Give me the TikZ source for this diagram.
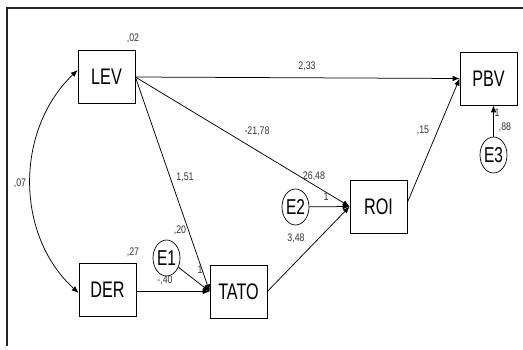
\documentclass[tikz,border=0pt]{standalone}
\usepackage{fontspec}
\setmainfont{Liberation Sans}
\newfontfamily\varfont[FakeStretch=0.72]{Liberation Sans}
\newfontfamily\estfont[FakeStretch=0.8]{Liberation Sans}
\usetikzlibrary{arrows.meta,shapes.geometric}

\begin{document}
\begin{tikzpicture}[
			x=1pt, y=-1pt,
			obsvar/.style={
					rectangle, draw, line width=0.7pt, minimum width=57pt, minimum height=53pt,
					inner sep=0pt, font=\varfont\fontsize{22.5}{22.5}\selectfont
				},
			errvar/.style={
					ellipse, draw, line width=0.7pt, minimum width=27pt, minimum height=36pt,
					inner sep=0pt, font=\varfont\fontsize{21.5}{21.5}\selectfont
				},
			est/.style={inner sep=0pt, text=black!80, font=\estfont\fontsize{11}{11}\selectfont},
			regpath/.style={-{Latex[length=7pt,width=5.5pt]}, line width=0.75pt},
			covpath/.style={{Latex[length=7pt,width=5.5pt]}-{Latex[length=7pt,width=5.5pt]}, line width=0.75pt}
		]
		\useasboundingbox (0,0) rectangle (523,349);

		% Frame (top and left edge only)
		\draw[line width=2pt, black!85] (523,8) -- (7,8) -- (7,346);

		% Observed variables
		\node[obsvar] (lev) at (106.5,77) {LEV};
		\node[obsvar] (der) at (107.5,290) {DER};
		\node[obsvar] (tato) at (238.5,291.5) {TATO};
		\node[obsvar] (roi) at (378.5,206.5) {ROI};
		\node[obsvar] (pbv) at (488.5,78.5) {PBV};

		% Error terms
		\node[errvar] (e1) at (166.5,258) {E1};
		\node[errvar] (e2) at (295.5,207) {E2};
		\node[errvar] (e3) at (493.5,155) {E3};

		% Paths
		\draw[regpath] (lev.east) -- (pbv.west);
		\draw[regpath] (lev.east) -- (roi.west);
		\draw[regpath] (lev.east) -- (tato.west);
		\draw[regpath] (der.east |- tato.west) -- (tato.west);
		\draw[regpath] (e1) -- (tato.west);
		\draw[regpath] (e2) -- (roi.west);
		\draw[regpath] (tato.east) -- (roi.west);
		\draw[regpath] ([yshift=4pt]roi.east) -- (pbv.west);
		\draw[regpath] (e3.north) -- (e3.north |- pbv.south);
		\draw[covpath] ([yshift=7pt]lev.west) .. controls (15,130) and (15,235) .. ([yshift=-3pt]der.west);

		% Estimates
		\node[est] (levvar) at (133,38) {,02};
		\node[est] (dervar) at (133,252) {,27};
		\node[est] (levder) at (20,183) {,07};
		\node[est] (levpbv) at (307,66) {2,33};
		\node[est] (levroi) at (257,131) {-21,78};
		\node[est] (roiint) at (314,176) {26,48};
		\node[est] (levtato) at (185,177) {1,51};
		\node[est] (tatoint) at (180,230) {,20};
		\node[est] (dertato) at (165,280) {-,40};
		\node[est] (e1load) at (200,270) {1};
		\node[est] (e2load) at (326,197) {1};
		\node[est] (e2var) at (296,238) {3,48};
		\node[est] (roipbv) at (423,130) {,15};
		\node[est] (e3load) at (497,113) {1};
		\node[est] (e3var) at (505,127) {,88};

	\end{tikzpicture}
\end{document}
